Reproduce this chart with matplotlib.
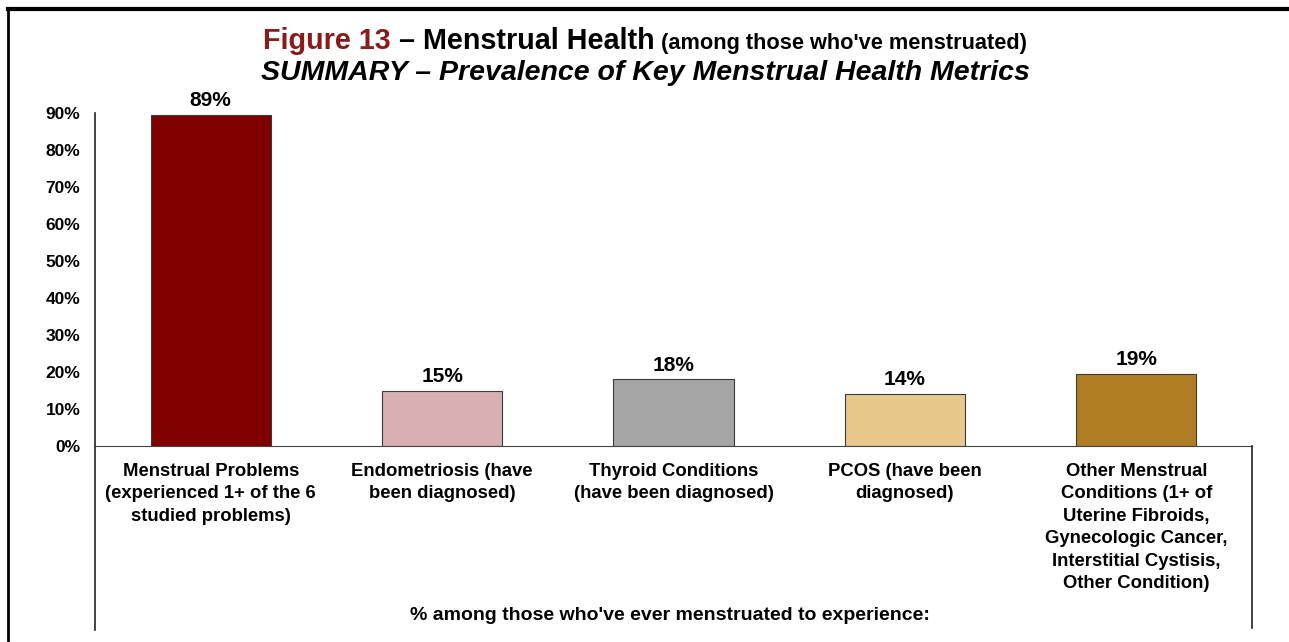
import matplotlib.pyplot as plt
from matplotlib.lines import Line2D

categories = [
    "Menstrual Problems\n(experienced 1+ of the 6\nstudied problems)",
    "Endometriosis (have\nbeen diagnosed)",
    "Thyroid Conditions\n(have been diagnosed)",
    "PCOS (have been\ndiagnosed)",
    "Other Menstrual\nConditions (1+ of\nUterine Fibroids,\nGynecologic Cancer,\nInterstitial Cystisis,\nOther Condition)",
]
values = [89.4, 15, 18, 14, 19.4]
colors = ["#800000", "#D8B0B1", "#A5A5A5", "#E8C78B", "#B07D24"]
yticks = [0, 10, 20, 30, 40, 50, 60, 70, 80, 90]

W, H = 1289, 642
plt.rcParams['font.family'] = ['Liberation Sans', 'DejaVu Sans']
fig = plt.figure(figsize=(W / 100, H / 100), dpi=100)
fig.patch.set_facecolor("white")

ax = fig.add_axes([95 / W, 1 - 446 / H, (1252 - 95) / W, (446 - 113) / H])
x = range(len(values))
ax.bar(x, values, width=0.52, color=colors, edgecolor="#3a3a3a", linewidth=0.8)
ax.set_xlim(-0.5, 4.5)
ax.set_ylim(0, 90)
ax.set_yticks(yticks)
ax.set_yticklabels([f"{v}%" for v in yticks], fontsize=12.5, fontweight="bold")
ax.tick_params(axis="y", length=0, pad=10.5)
ax.set_xticks(list(x))
ax.set_xticklabels(categories, fontsize=13.3, fontweight="bold", linespacing=1.42, va="top")
ax.tick_params(axis="x", length=0, pad=12)
for s in ["top", "right", "left"]:
    ax.spines[s].set_visible(False)
ax.spines["bottom"].set_color("#444444")

for i, v in enumerate(values):
    ax.text(i, v + 1.3, f"{round(v)}%", ha="center", va="bottom", fontsize=15, fontweight="bold")

# frame lines
def fline(x0, y0, x1, y1, lw=1.2, c="#222222"):
    fig.add_artist(Line2D([x0 / W, x1 / W], [1 - y0 / H, 1 - y1 / H], color=c, lw=lw))

fline(95, 113, 95, 630)
fline(1252, 446, 1252, 628)
fline(8, 9, W, 9, lw=3, c="black")
fline(8, 9, 8, 640, lw=2, c="black")

fig.text(670 / W, 1 - 615 / H, "% among those who've ever menstruated to experience:",
         ha="center", va="center", fontsize=14, fontweight="bold")

# title, line 1 built from pieces
pieces = [("Figure 13", "#8B1A1A", 20.7), (" – Menstrual Health", "black", 20.7),
          (" (among those who've menstruated)", "black", 15.7)]
fig.canvas.draw()
r = fig.canvas.get_renderer()
texts = []
for s, c, fs in pieces:
    t = fig.text(0, 1 - 49 / H, s, color=c, fontsize=fs, fontweight="bold",
                 ha="left", va="baseline")
    texts.append(t)
widths = [t.get_window_extent(r).width for t in texts]
xpos = 645 - sum(widths) / 2
for t, w in zip(texts, widths):
    t.set_x(xpos / W)
    xpos += w

fig.text(645 / W, 1 - 80 / H, "SUMMARY – Prevalence of Key Menstrual Health Metrics",
         ha="center", va="baseline", fontsize=20.5, fontweight="bold", style="italic")

fig.savefig("out.png", dpi=100, facecolor="white")
